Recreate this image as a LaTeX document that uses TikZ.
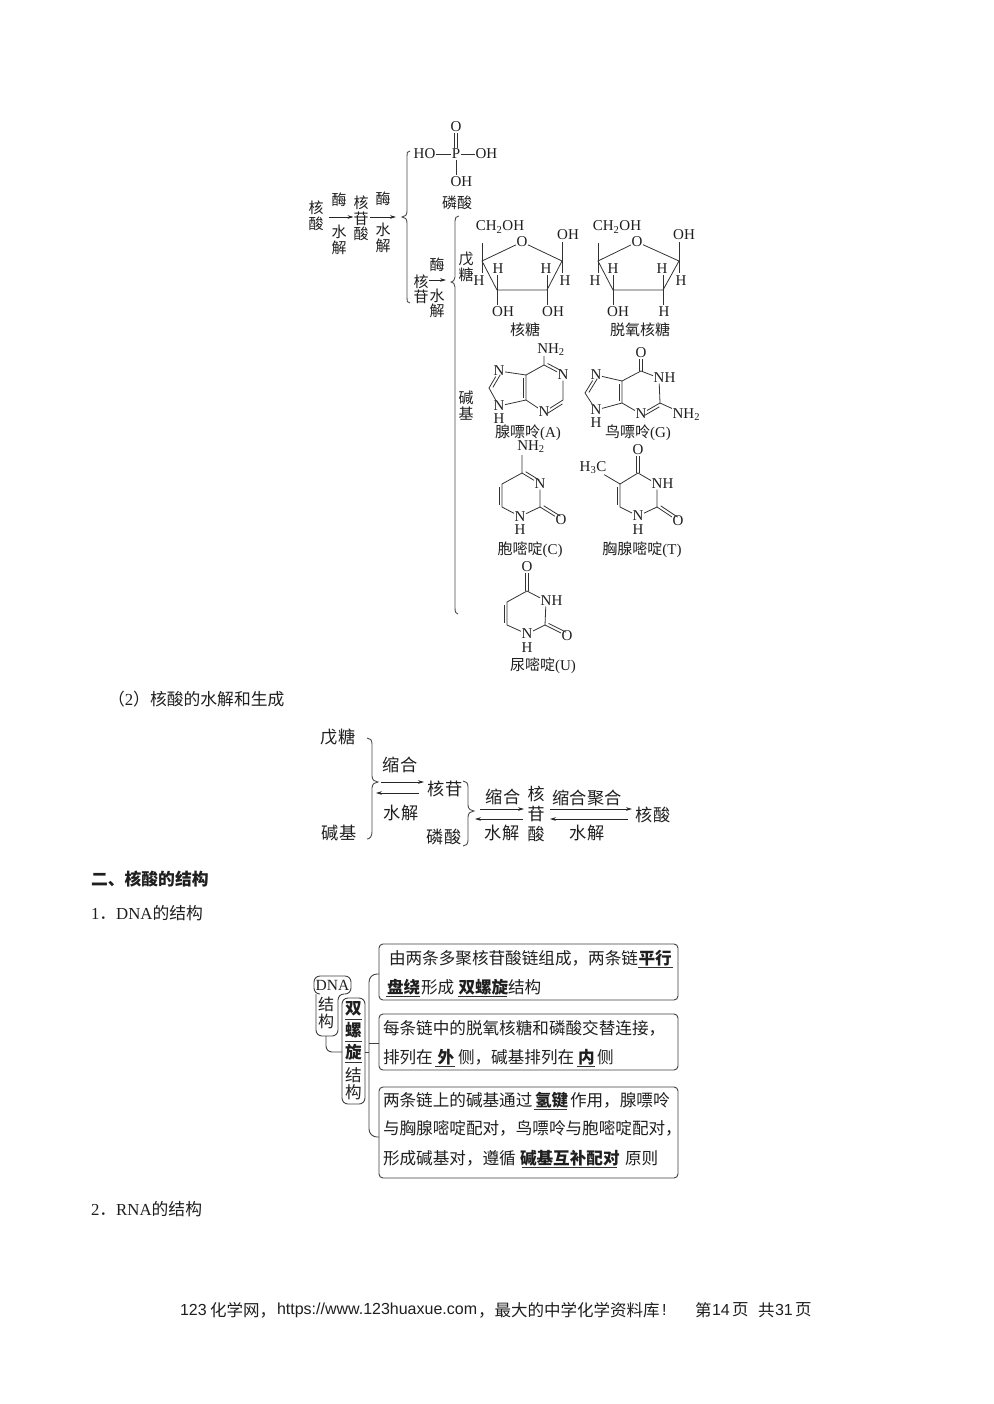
\documentclass[tikz,border=0pt]{standalone}
\usepackage{fontspec}
\setmainfont{Liberation Serif}
\setsansfont{Liberation Sans}
\newfontfamily\cjk{Noto Sans CJK SC}
\usetikzlibrary{arrows.meta,calc}
\newcommand\zhs{\cjk\fontsize{15}{16}\selectfont}
\newcommand\zhm{\cjk\fontsize{17.2}{18}\selectfont}
\newcommand\zht{\cjk\fontsize{16.6}{18}\selectfont}
\newcommand\zhp{\cjk\fontsize{16.8}{18}\selectfont}
\newcommand\atf{\rmfamily\fontsize{15}{15}\selectfont}
\newcommand\dbond[3]{\draw[bond,shorten <=2.5pt,shorten >=2.5pt] ($(#1)!3pt!#3:(#2)$) -- ($(#2)!3pt!-#3:(#1)$);}
\tikzset{
  every node/.style={inner sep=0pt,outer sep=0pt,text=black!88},
  bond/.style={draw=black!80,line width=0.8pt},
  atom/.style={font=\atf,inner sep=0.6pt},
  lab/.style={font=\zhs,align=center},
  vlab/.style={font=\cjk\fontsize{15}{15.5}\selectfont,align=center},
  vlabm/.style={font=\cjk\fontsize{17}{20}\selectfont,align=center},
  mlab/.style={font=\zhm,align=center},
  ln/.style={font=\zht,anchor=west},
  pg/.style={font=\zhp,anchor=west},
  ft/.style={font=\sffamily\fontsize{16}{18}\selectfont,anchor=west},
  ftz/.style={font=\cjk\fontsize{16.5}{18}\selectfont,anchor=west},
  bx/.style={draw=black!75,line width=0.9pt,rounded corners=4pt},
  em/.style={font=\zht\bfseries,anchor=west},
  ul/.style={draw=black!80,line width=0.9pt},
  arr/.style={draw=black!85,line width=0.8pt,-{Stealth[length=6pt,width=3.6pt]}},
  brc/.style={draw=black!70,line width=0.9pt},
}
\begin{document}
\begin{tikzpicture}[x=1pt,y=-1pt]
\useasboundingbox[fill=white] (0,0) rectangle (993,1404);

% ---- flow top
\node[vlab] (hs) at (316,216) {核\\酸};
\node[lab] (m1) at (339,200) {酶};
\node[vlab] (sj1) at (339,240) {水\\解};
\node[vlab] (hgs) at (361,218.5) {核\\苷\\酸};
\draw[arr] (hs.east |- 0,217) ++(5,0) -- (hgs.west |- 0,217);
\node[lab] (m2) at (383,199) {酶};
\node[vlab] (sj2) at (383,238) {水\\解};
\coordinate (br1) at (396,217);
\draw[arr] (hgs.east |- 0,217) ++(1,0) -- (br1);
\draw[brc] (410,151) .. controls (407,151) and (407,153) .. (407,156) -- (407,211) .. controls (407,215) and (405,217) .. (402,217) .. controls (405,217) and (407,219) .. (407,223) -- (407,298) .. controls (407,301) and (407,303) .. (410,303);

% phosphoric acid
\node[atom] (pP) at (456,154) {P};
\node[atom] (pOt) at (456,127) {O};
\node[atom,anchor=east] (pHO) at (436,154) {HO};
\node[atom,anchor=west] (pOH) at (475,154) {OH};
\node[atom,anchor=west] (pOHb) at (450,182) {OH};
\coordinate (pb) at (456,175);
\draw[bond] (pHO) -- (pP);
\draw[bond] (pP) -- (pOH);
\draw[bond] (pP) -- (pb);
\draw[bond] ($(pP.north)+(-1.5,0)$) -- ($(pOt.south)+(-1.5,0)$);
\draw[bond] ($(pP.north)+(1.5,0)$) -- ($(pOt.south)+(1.5,0)$);
\node[lab] (lin) at (457,203) {磷酸};

% second brace
\draw[brc] (459,216) .. controls (456,216) and (455,218) .. (455,221) -- (455,277) .. controls (455,280) and (453,282) .. (451,282) .. controls (453,282) and (455,284) .. (455,287) -- (455,608) .. controls (455,612) and (456,614) .. (458,614);
\node[vlab] (hg) at (421,289.5) {核\\苷};
\node[lab] (m3) at (437,265) {酶};
\node[vlab] (sj3) at (437,303.5) {水\\解};
\coordinate (br2) at (446,280);
\draw[arr] (hg.east |- 0,280) -- (br2);
\node[vlab] (wt) at (466,267) {戊\\糖};
\node[vlab] (jj) at (466,405.5) {碱\\基};

% ribose
\node[atom] (rO) at (522,242) {O};
\coordinate (r4) at (482,261); \coordinate (r1) at (562,261);
\coordinate (r3) at (497,290); \coordinate (r2) at (547,290);
\node[atom] (rCH) at (500,227) {CH\textsubscript{2}OH};
\node[atom] (rOH1) at (568,235) {OH};
\coordinate (r4u) at (482,243); \coordinate (r1u) at (562,242);
\coordinate (r4d) at (482,273); \coordinate (r1d) at (562,273);
\coordinate (r3u) at (497,275); \coordinate (r2u) at (547,275);
\coordinate (r3d) at (497,305); \coordinate (r2d) at (547,305);
\node[atom] (rH1) at (479,281) {H}; \node[atom] (rH2) at (498,269) {H};
\node[atom] (rH3) at (546,269) {H}; \node[atom] (rH4) at (565,281) {H};
\node[atom] (rOH2) at (503,312) {OH}; \node[atom] (rOH3) at (553,312) {OH};
\draw[bond] (rO) -- (r4) -- (r3) -- (r2) -- (r1) -- (rO);
\draw[bond] (r4u) -- (r4d); \draw[bond] (r1u) -- (r1d);
\draw[bond] (r3u) -- (r3d); \draw[bond] (r2u) -- (r2d);
\node[lab] (hts) at (525,330) {核糖};

% deoxyribose
\node[atom] (dO) at (637,242) {O};
\coordinate (d4) at (598,261); \coordinate (d1) at (679,261);
\coordinate (d3) at (613,290); \coordinate (d2) at (663,290);
\node[atom] (dCH) at (617,227) {CH\textsubscript{2}OH};
\node[atom] (dOH1) at (684,235) {OH};
\coordinate (d4u) at (598,243); \coordinate (d1u) at (679,242);
\coordinate (d4d) at (598,273); \coordinate (d1d) at (679,273);
\coordinate (d3u) at (613,275); \coordinate (d2u) at (663,275);
\coordinate (d3d) at (613,305); \coordinate (d2d) at (663,305);
\node[atom] (dH1) at (595,281) {H}; \node[atom] (dH2) at (613,269) {H};
\node[atom] (dH3) at (662,269) {H}; \node[atom] (dH4) at (681,281) {H};
\node[atom] (dOH2) at (618,312) {OH}; \node[atom] (dH5) at (664,312) {H};
\draw[bond] (dO) -- (d4) -- (d3) -- (d2) -- (d1) -- (dO);
\draw[bond] (d4u) -- (d4d); \draw[bond] (d1u) -- (d1d);
\draw[bond] (d3u) -- (d3d); \draw[bond] (d2u) -- (d2d);
\node[lab] (dts) at (640,330) {脱氧核糖};

% adenine
\node[atom] (aNH) at (551,350) {NH\textsubscript{2}};
\coordinate (a6) at (544,365); \coordinate (a6u) at (544,356);
\node[atom] (aN1) at (563,375) {N};
\coordinate (a2) at (563,400);
\node[atom] (aN3) at (544,412) {N};
\coordinate (a4) at (526,400); \coordinate (a5) at (526,375);
\node[atom] (aN7) at (499,371) {N};
\coordinate (a8) at (489,388);
\node[atom] (aN9) at (499,406) {N};
\node[atom] (aH) at (499,419) {H};
\draw[bond] (a6u) -- (a6) -- (aN1) -- (a2) -- (aN3) -- (a4) -- (a5) -- (a6);
\draw[bond] (a5) -- (aN7) -- (a8) -- (aN9) -- (a4);
\dbond{a6}{aN1}{90}
\dbond{a2}{aN3}{90}
\dbond{a4}{a5}{90}
\dbond{aN7}{a8}{90}
\node[lab] (alab) at (528,433) {腺嘌呤{\rmfamily(A)}};

% guanine
\node[atom] (gO) at (641,353) {O};
\coordinate (g6) at (641,371);
\node[atom] (gN1) at (659,378) {N}; \node[atom] (gH1) at (670,378) {H};
\coordinate (g2) at (660,403);
\node[atom,anchor=west] (gNH) at (672,415) {NH\textsubscript{2}};
\node[atom] (gN3) at (641,414) {N};
\coordinate (g4) at (622,403); \coordinate (g5) at (622,381);
\node[atom] (gN7) at (596,375) {N};
\coordinate (g8) at (585,393);
\node[atom] (gN9) at (596,410) {N};
\node[atom] (gH) at (596,423) {H};
\draw[bond] (g6) -- (gN1) -- (g2) -- (gN3) -- (g4) -- (g5) -- (g6);
\draw[bond] (g2) -- (gNH);
\draw[bond] (g5) -- (gN7) -- (g8) -- (gN9) -- (g4);
\draw[bond] ($(g6)+(-1.5,0)$) -- ($(gO.south)+(-1.5,0)$);
\draw[bond] ($(g6)+(1.5,0)$) -- ($(gO.south)+(1.5,0)$);
\dbond{g2}{gN3}{90}
\dbond{g4}{g5}{90}
\dbond{gN7}{g8}{90}
\node[lab] (glab) at (638,433) {鸟嘌呤{\rmfamily(G)}};

% cytosine
\node[atom] (cNH) at (531,447) {NH\textsubscript{2}};
\coordinate (c4) at (522,473);
\node[atom] (cN3) at (540,484) {N};
\coordinate (c2) at (540,507);
\node[atom] (cO) at (561,520) {O};
\node[atom] (cN1) at (520,516.5) {N};
\node[atom] (cH) at (520,530) {H};
\coordinate (c6) at (502,507); \coordinate (c5) at (502,484);
\coordinate (c4u) at (522,455);
\draw[bond] (c4u) -- (c4) -- (cN3) -- (c2) -- (cN1) -- (c6) -- (c5) -- (c4);
\draw[bond] (c2) -- (cO);
\dbond{c4}{cN3}{90}
\dbond{c2}{cO}{90}
\dbond{c6}{c5}{90}
\node[lab] (clab) at (530,550) {胞嘧啶{\rmfamily(C)}};

% thymine
\node[atom] (tO) at (638,450) {O};
\coordinate (t4) at (638,473);
\node[atom] (tN3) at (657,484) {N}; \node[atom] (tH3) at (668,484) {H};
\coordinate (t2) at (657,507);
\node[atom] (tO2) at (678,521) {O};
\node[atom] (tN1) at (638,516) {N};
\node[atom] (tH) at (638,530) {H};
\coordinate (t6) at (620,507); \coordinate (t5) at (620,484);
\node[atom] (tMe) at (593,468) {H\textsubscript{3}C};
\draw[bond] (t4) -- (tN3) -- (t2) -- (tN1) -- (t6) -- (t5) -- (t4);
\draw[bond] (t5) -- (tMe);
\draw[bond] (t2) -- (tO2);
\draw[bond] ($(t4)+(-1.5,0)$) -- ($(tO.south)+(-1.5,0)$);
\draw[bond] ($(t4)+(1.5,0)$) -- ($(tO.south)+(1.5,0)$);
\dbond{t2}{tO2}{90}
\dbond{t6}{t5}{90}
\node[lab] (tlab) at (642,550) {胸腺嘧啶{\rmfamily(T)}};

% uracil
\node[atom] (uO) at (527,567) {O};
\coordinate (u4) at (527,591);
\node[atom] (uN3) at (546,601) {N}; \node[atom] (uH3) at (557,601) {H};
\coordinate (u2) at (545,625);
\node[atom] (uO2) at (567,636) {O};
\node[atom] (uN1) at (527,634) {N};
\node[atom] (uH) at (527,648) {H};
\coordinate (u6) at (507,625); \coordinate (u5) at (507,602);
\draw[bond] (u4) -- (uN3) -- (u2) -- (uN1) -- (u6) -- (u5) -- (u4);
\draw[bond] (u2) -- (uO2);
\draw[bond] ($(u4)+(-1.5,0)$) -- ($(uO.south)+(-1.5,0)$);
\draw[bond] ($(u4)+(1.5,0)$) -- ($(uO.south)+(1.5,0)$);
\dbond{u2}{uO2}{90}
\dbond{u6}{u5}{90}
\node[lab] (ulab) at (543,666) {尿嘧啶{\rmfamily(U)}};

% ---- body text
\node[pg] (t2a) at (108,699) {（{\rmfamily 2}）核酸的水解和生成};
\node[pg,font=\zhp\bfseries] (t2b) at (91,879) {二、核酸的结构};
\node[pg] (t2c) at (91,913) {{\rmfamily 1}．{\rmfamily DNA}的结构};
\node[pg] (t2d) at (91,1209) {{\rmfamily 2}．{\rmfamily RNA}的结构};

% ---- hydrolysis diagram
\node[mlab] (wt2) at (338,737) {戊糖};
\node[mlab] (jj2) at (339,833) {碱基};
\draw[brc] (367,738) .. controls (370,738) and (372,740) .. (372,744) -- (372,776) .. controls (372,780) and (375,782) .. (378,782) .. controls (375,782) and (372,784) .. (372,788) -- (372,832) .. controls (372,836) and (370,839) .. (367,839);
\node[mlab] (sh1) at (400,765) {缩合};
\node[mlab] (hg2) at (445,789) {核苷};
\node[mlab] (ls2) at (444,837) {磷酸};
\node[mlab] (sj4) at (401,813) {水解};
\coordinate (f1) at (381,782); \coordinate (f2) at (424,782);
\coordinate (b1) at (419,793); \coordinate (b2) at (376,793);
\draw[arr] (f1) -- (f2);
\draw[arr] (b1) -- (b2);
\draw[brc] (463,781) .. controls (466,781) and (468,783) .. (468,787) -- (468,805) .. controls (468,809) and (471,811) .. (474,811) .. controls (471,811) and (468,813) .. (468,817) -- (468,840) .. controls (468,844) and (466,846) .. (463,846);
\node[mlab] (sh2) at (503,797) {缩合};
\node[mlab] (sj5) at (502,833) {水解};
\coordinate (f3) at (480,809); \coordinate (f4) at (524,809);
\coordinate (b3) at (523,819); \coordinate (b4) at (475,819);
\draw[arr] (f3) -- (f4);
\draw[arr] (b3) -- (b4);
\node[vlabm] (hgs2) at (536,814.5) {核\\苷\\酸};
\node[mlab] (sh3) at (587,798) {缩合聚合};
\node[mlab] (sj6) at (587,833) {水解};
\node[mlab] (hs2) at (653,815) {核酸};
\coordinate (f5) at (550,809); \coordinate (f6) at (632,809);
\coordinate (b5) at (628,819); \coordinate (b6) at (550,819);
\draw[arr] (f5) -- (f6);
\draw[arr] (b5) -- (b6);

% ---- DNA structure
\draw[bx] (379,944) rectangle (678,1000);
\draw[bx] (379,1014) rectangle (678,1070);
\draw[bx] (379,1087) rectangle (678,1178);
\node[ln] (l1a) at (389,958) {由两条多聚核苷酸链组成，两条链};
\node[em] (l1b) at (638.5,958) {平行};
\node[em] (l2a) at (387,987) {盘绕};
\node[ln] (l2b) at (421,987) {形成};
\node[em] (l2c) at (458.5,987) {双螺旋};
\node[ln] (l2d) at (508,987) {结构};
\draw[ul] (638,967) -- (673,967);
\draw[ul] (386,996) -- (420,996);
\draw[ul] (458,996) -- (507,996);

\node[ln] (l3) at (383,1028) {每条链中的脱氧核糖和磷酸交替连接，};
\node[ln] (l4a) at (383,1057) {排列在};
\node[em] (l4b) at (437.5,1057) {外};
\node[ln] (l4c) at (458,1057) {侧，碱基排列在};
\node[em] (l4d) at (578,1057) {内};
\node[ln] (l4e) at (597,1057) {侧};
\draw[ul] (435,1066) -- (455,1066);
\draw[ul] (577,1066) -- (595,1066);

\node[ln] (l5a) at (383,1100) {两条链上的碱基通过};
\node[em] (l5b) at (535,1100) {氢键};
\node[ln] (l5c) at (570,1100) {作用，腺嘌呤};
\draw[ul] (534,1109) -- (567,1109);
\node[ln] (l6) at (383,1128) {与胸腺嘧啶配对，鸟嘌呤与胞嘧啶配对，};
\node[ln] (l7a) at (383,1158) {形成碱基对，遵循};
\node[em] (l7b) at (520,1158) {碱基互补配对};
\node[ln] (l7c) at (625,1158) {原则};
\draw[ul] (522,1167) -- (617,1167);

% left boxes
\draw[bx,rounded corners=6pt] (319,994) -- (314,994) -- (314,976) -- (351,976) -- (351,994) -- (338,994) -- (338,1036) -- (316,1036) -- (316,994);
\node[font=\rmfamily\fontsize{15.5}{16}\selectfont] (dna) at (332.5,985) {DNA};
\node[vlab,font=\cjk\fontsize{16}{16.5}\selectfont] (jg) at (326,1013) {结\\构};
\coordinate (jgb) at (326,1036);
\draw[bx,rounded corners=6pt] (342,998) rectangle (365,1104);
\node[font=\zht\bfseries] (sl1) at (353.5,1009) {双};
\node[font=\zht\bfseries] (sl2) at (353.5,1030) {螺};
\node[font=\zht\bfseries] (sl3) at (353.5,1052) {旋};
\node[font=\zht] (sl4) at (353.5,1075) {结};
\node[font=\zht] (sl5) at (353.5,1092) {构};
\draw[ul] (345,1019) -- (362,1019);
\draw[ul] (345,1041) -- (362,1041);
\draw[ul] (345,1062) -- (362,1062);
\coordinate (slw) at (342,1052); \coordinate (sle) at (365,1052);
\coordinate (sp) at (369,1052);
\coordinate (bt) at (379,974); \coordinate (bm) at (379,1043); \coordinate (bb) at (379,1137);
\draw[brc,draw=black!75,rounded corners=6pt] (jgb) -- (326,1052) -- (slw);
\draw[brc,draw=black!75] (sle) -- (sp);
\draw[brc,draw=black!75,rounded corners=8pt] (bt) -- (369,974) -- (369,1137) -- (bb);
\draw[brc,draw=black!75] (369,1043) -- (bm);

% footer
\node[ft] (ft1) at (180,1310) {123};
\node[ftz] (ft2) at (210,1310) {化学网，};
\node[ft] (ft3) at (277,1310) {https://www.123huaxue.com};
\node[ftz] (ft4) at (478,1310) {，最大的中学化学资料库};
\node[ft] (ft5) at (662,1310) {!};
\node[ftz] (ft6) at (695,1310) {第};
\node[ft] (ft7) at (712,1310) {14};
\node[ftz] (ft8) at (732,1310) {页};
\node[ftz] (ft9) at (758,1310) {共};
\node[ft] (ft10) at (775,1310) {31};
\node[ftz] (ft11) at (795,1310) {页};
\end{tikzpicture}
\end{document}
